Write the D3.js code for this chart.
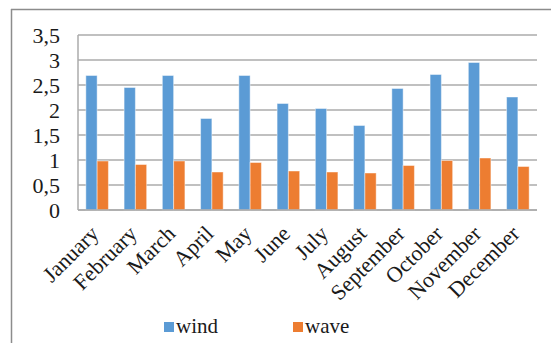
<!DOCTYPE html>
<html>
<head>
<meta charset="utf-8">
<script src="https://cdn.jsdelivr.net/npm/d3@7"></script>
<style>
  html, body { margin: 0; padding: 0; background: #fff; }
  svg { display: block; }
  text { font-family: "Liberation Serif", "Times New Roman", serif; fill: #1a1a1a; }
</style>
</head>
<body>
<svg id="chart" width="551" height="343"></svg>
<script>
const months = ["January","February","March","April","May","June","July","August","September","October","November","December"];
const wind = [2.69, 2.45, 2.69, 1.83, 2.69, 2.13, 2.03, 1.69, 2.43, 2.71, 2.95, 2.26];
const wave = [0.98, 0.91, 0.98, 0.76, 0.95, 0.78, 0.76, 0.74, 0.89, 0.99, 1.04, 0.87];
const yTicks = [0, 0.5, 1, 1.5, 2, 2.5, 3, 3.5];
const seriesNames = ["wind", "wave"];
const seriesColors = ["#5B9BD5", "#ED7D31"];

(function () {
const svg = d3.select("#chart");
const W = 551, H = 343;
const pLeft = 78, pRight = 537, pTop = 35, pBottom = 210;

// outer frame (top and left edges visible)
svg.append("line").attr("x1", 11).attr("x2", W).attr("y1", 9.5).attr("y2", 9.5)
  .attr("stroke", "#8c8c8c").attr("stroke-width", 1.5);
svg.append("line").attr("x1", 11.5).attr("x2", 11.5).attr("y1", 9).attr("y2", H)
  .attr("stroke", "#8c8c8c").attr("stroke-width", 1.5);

const y = d3.scaleLinear().domain([0, 3.5]).range([pBottom, pTop]);
const x0 = d3.scaleBand().domain(months).range([pLeft, pRight]).padding(0);
const bw = x0.bandwidth();
const x1 = d3.scaleBand().domain(seriesNames).range([bw * 0.205, bw * 0.795]).padding(0);

// gridlines
svg.append("g").selectAll("line").data(yTicks).join("line")
  .attr("x1", pLeft).attr("x2", pRight)
  .attr("y1", d => y(d)).attr("y2", d => y(d))
  .attr("stroke", "#ababab").attr("stroke-width", 1.5);
// left axis line
svg.append("line").attr("x1", pLeft).attr("x2", pLeft).attr("y1", pTop).attr("y2", pBottom)
  .attr("stroke", "#ababab").attr("stroke-width", 1.5);

// y tick labels
const fmt = d => String(d).replace(".", ",");
svg.append("g").selectAll("text").data(yTicks).join("text")
  .attr("x", 60).attr("y", d => y(d)).attr("dy", "0.35em")
  .attr("text-anchor", "end").attr("font-size", 22)
  .text(fmt);

// bars
const data = months.map((m, i) => ({ m, vals: [wind[i], wave[i]] }));
const groups = svg.append("g").selectAll("g").data(data).join("g")
  .attr("transform", d => `translate(${x0(d.m)},0)`);
groups.selectAll("rect").data(d => d.vals.map((v, j) => ({ v, s: seriesNames[j], c: seriesColors[j] })))
  .join("rect")
  .attr("x", d => x1(d.s)).attr("width", x1.bandwidth())
  .attr("y", d => y(d.v)).attr("height", d => y(0) - y(d.v))
  .attr("fill", d => d.c)
  .attr("stroke", "rgba(255,255,255,0.45)").attr("stroke-width", 1);

// bottom axis line on top
svg.append("line").attr("x1", pLeft).attr("x2", pRight).attr("y1", pBottom).attr("y2", pBottom)
  .attr("stroke", "#ababab").attr("stroke-width", 1.5);

// x labels rotated
svg.append("g").selectAll("text").data(months).join("text")
  .attr("text-anchor", "end").attr("font-size", 22)
  .attr("transform", d => `translate(${x0(d) + bw / 2 + 3},${pBottom + 25}) rotate(-45)`)
  .text(d => d);

// legend
const legX = [164, 293];
const leg = svg.append("g").selectAll("g").data(seriesNames).join("g")
  .attr("transform", (d, i) => `translate(${legX[i]},322)`);
leg.append("rect").attr("width", 10).attr("height", 10).attr("fill", (d, i) => seriesColors[i]);
leg.append("text").attr("x", 12).attr("y", 11).attr("font-size", 21).text(d => d);
})();
</script>
</body>
</html>
